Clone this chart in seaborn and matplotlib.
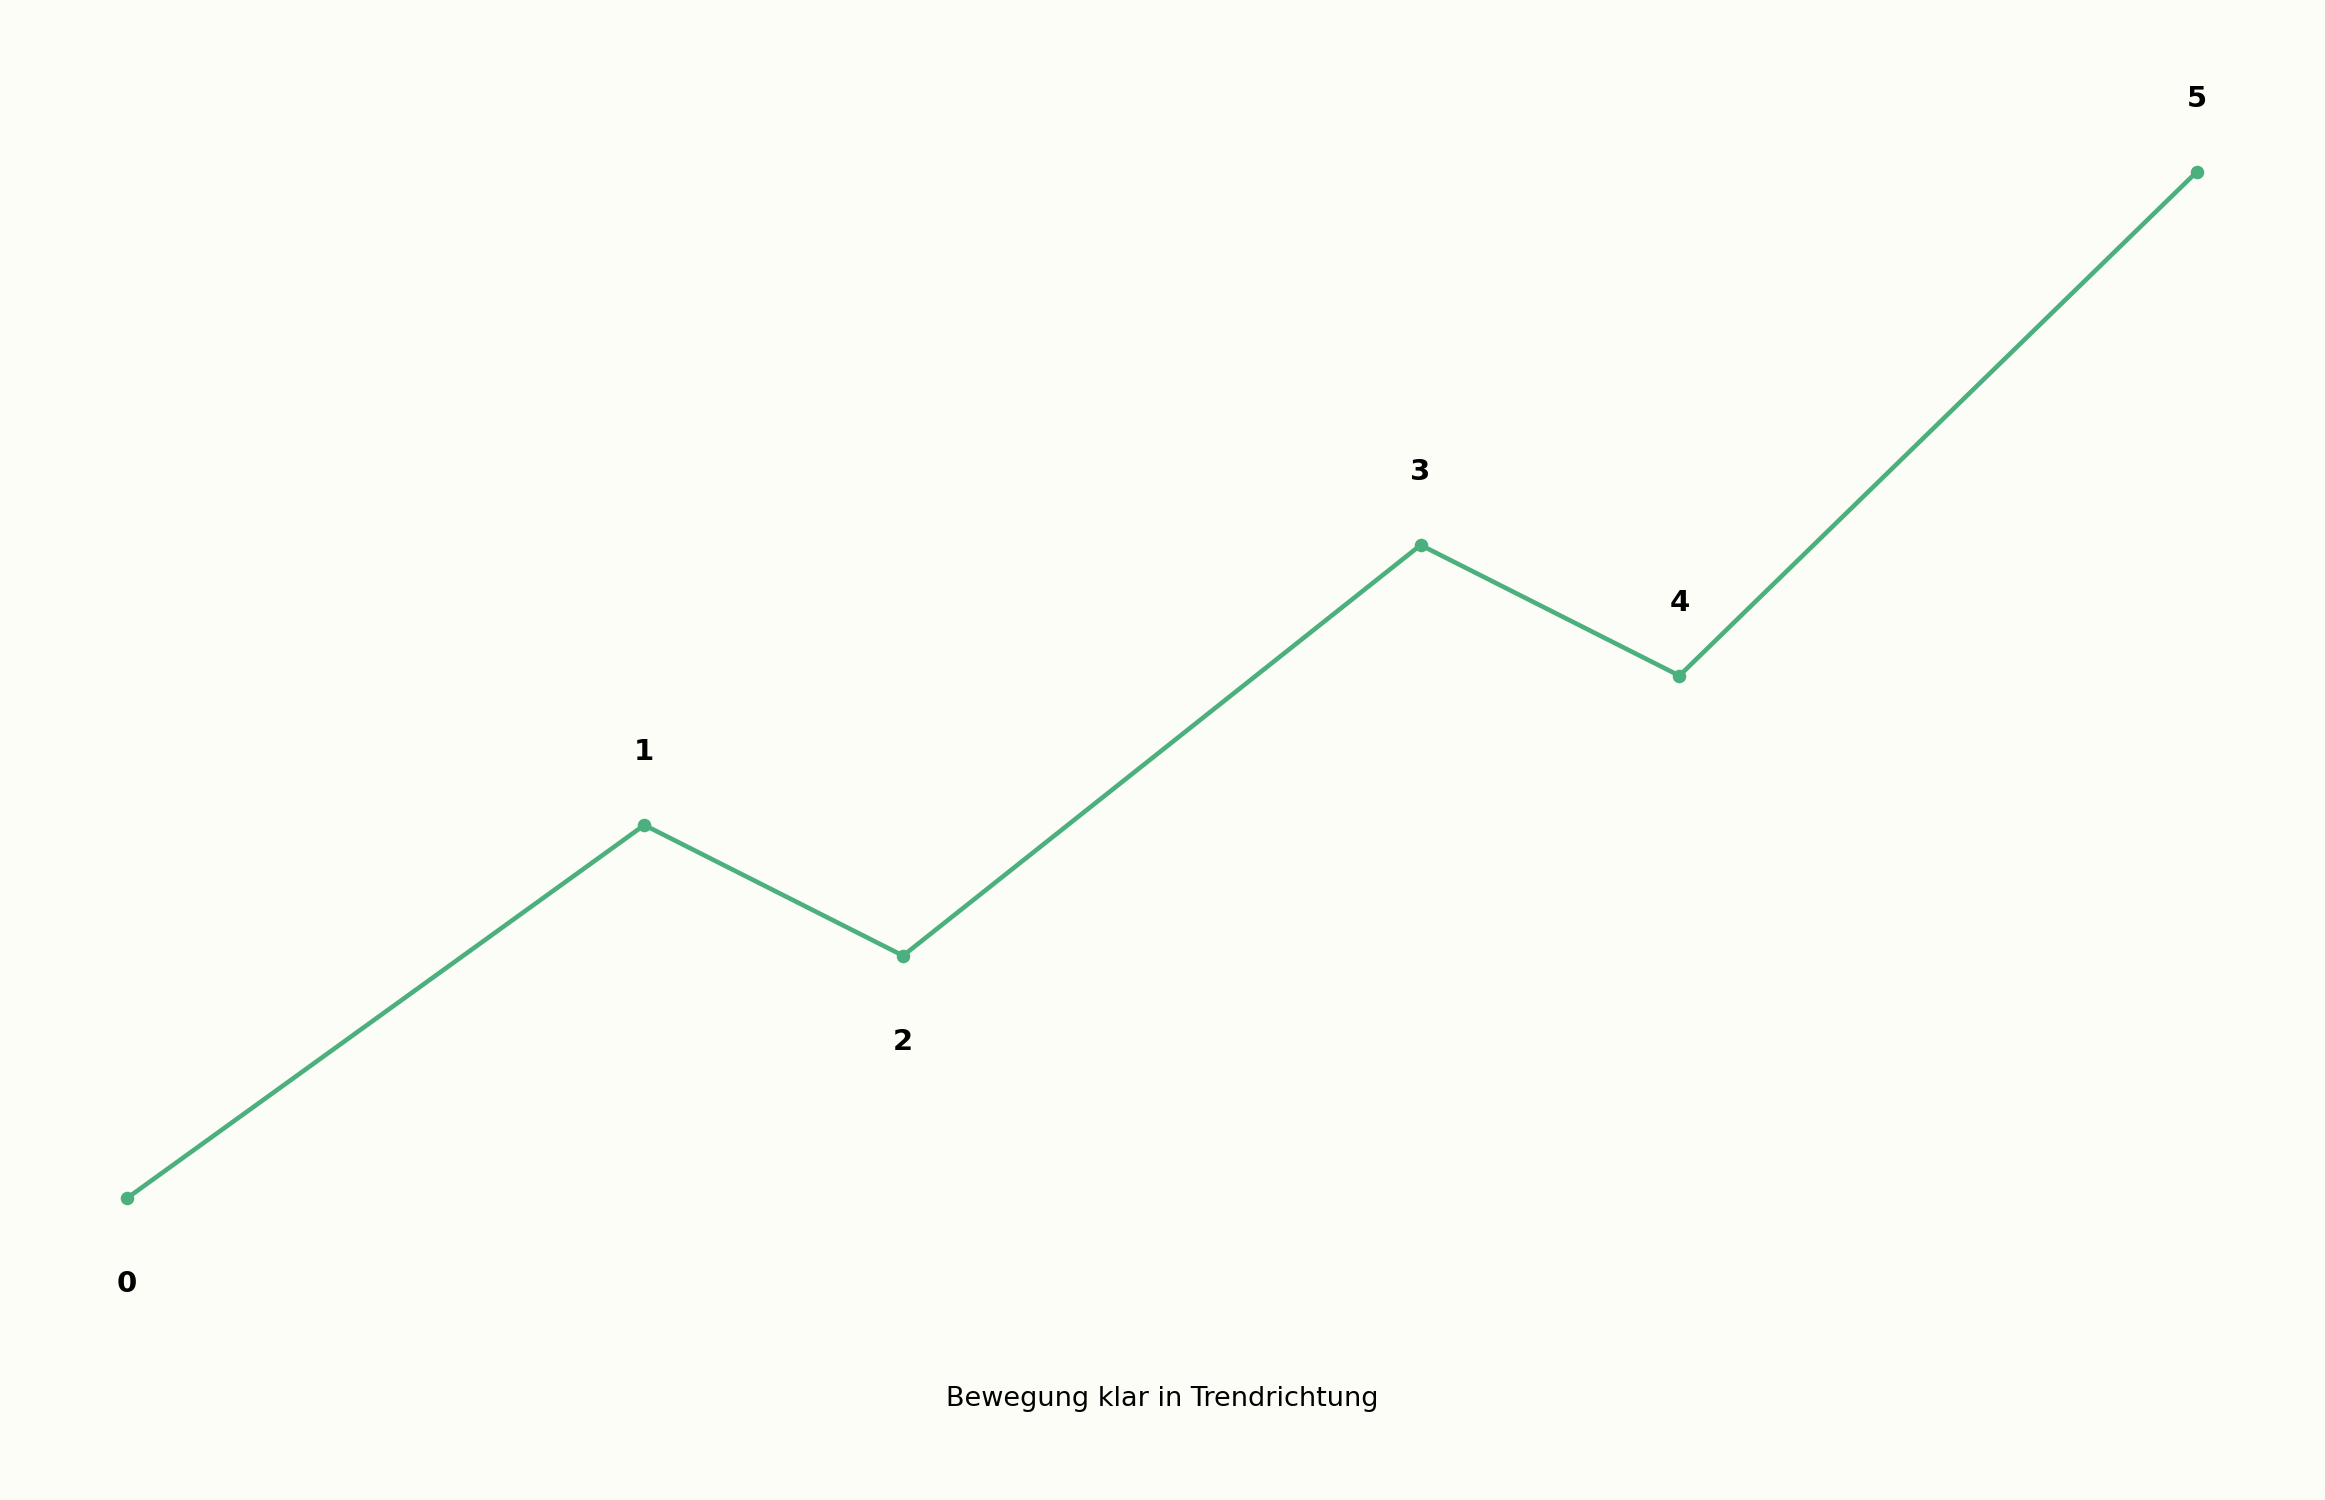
import pandas as pd
import seaborn as sns
import matplotlib.pyplot as plt

# Wave points (x position and price level)
wave_labels = ['0', '1', '2', '3', '4', '5']
wave_x = [0, 2, 3, 5, 6, 8]
wave_y = [0.0, 1.0, 0.65, 1.75, 1.4, 2.75]
label_side = [-1, 1, -1, 1, 1, 1]  # -1 = below, 1 = above

caption = 'Bewegung klar in Trendrichtung'

bg_color = '#fdfdf8'
line_color = '#4caf7e'

sns.set_theme(style='white')
plt.rcParams['font.family'] = ['DejaVu Sans']

data = pd.DataFrame({'x': wave_x, 'y': wave_y, 'label': wave_labels})

fig = plt.figure(figsize=(15.5, 10), dpi=150, facecolor=bg_color)
ax = fig.add_axes([0, 0, 1, 1])
ax.set_facecolor(bg_color)

sns.lineplot(data=data, x='x', y='y', ax=ax, color=line_color, linewidth=2.2,
             marker='o', markersize=6.5, markeredgewidth=0, sort=False)

# Wave numbers above / below the turning points
for _, row in data.iterrows():
    side = label_side[int(row['label'])]
    offset = 0.195 if side > 0 else -0.23
    ax.text(row['x'], row['y'] + offset, row['label'], ha='center', va='center',
            fontsize=14, fontweight='bold', color='black')

ax.set_xlim(-0.49, 8.495)
ax.set_ylim(-0.808, 3.21)
ax.set_axis_off()

fig.text(0.5, 0.063, caption, ha='center', va='baseline', fontsize=13, color='black')

plt.savefig('out.png', dpi=150, facecolor=bg_color)
